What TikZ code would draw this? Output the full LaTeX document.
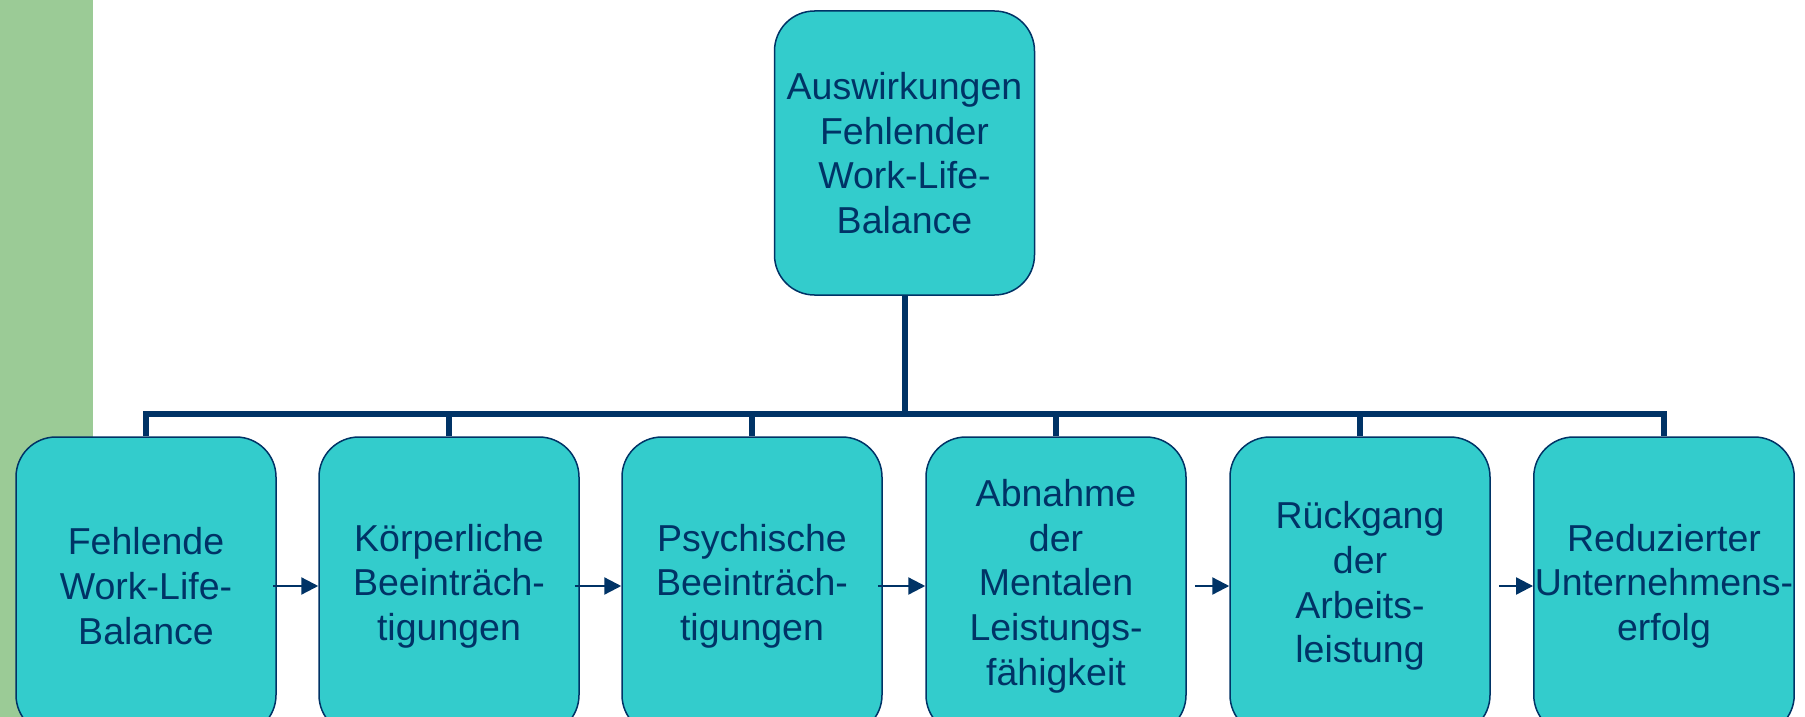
\documentclass[tikz,border=0pt]{standalone}
\usepackage{fontspec}
\setmainfont{Liberation Sans}
\usepackage{xcolor}
\usepackage{tikz}
\usetikzlibrary{arrows.meta}
\usetikzlibrary{positioning}

\definecolor{navy}{RGB}{0,51,102}
\definecolor{tuerkis}{RGB}{51,204,204}
\definecolor{seitengruen}{RGB}{155,203,150}

\tikzset{
  wirkbox/.style={draw=navy, line width=1.5pt, fill=tuerkis, rounded corners=40pt,
    minimum width=260pt, minimum height=298pt, inner sep=1pt, align=center,
    text=navy, font=\fontsize{37.5}{44.7}\selectfont},
  orgline/.style={draw=navy, line width=6pt},
  flow/.style={draw=navy, line width=2.3pt, -{Triangle[length=17pt,width=17pt]}},
}

\begin{document}
\begin{tikzpicture}[x=1pt,y=1pt,yscale=-1,xscale=1]
  \clip (0,0) rectangle (1805,717);

  %Shape: side bar
  \fill [seitengruen] (0,0) rectangle (93,717);

  %Top box
  \node [wirkbox, minimum height=284pt] (wirkung) at (904.5,153)
    {Auswirkungen\\Fehlender\\Work-Life-\\Balance};

  %Row of boxes
  \node [wirkbox] (fehlend) at (146,586) {Fehlende\\Work-Life-\\Balance};
  \node [wirkbox] (koerper) at (449,586) {Körperliche\\Beeinträch-\\tigungen};
  \node [wirkbox] (psyche)  at (752,586) {Psychische\\Beeinträch-\\tigungen};
  \node [wirkbox] (mental)  at (1056,586) {Abnahme\\der\\Mentalen\\Leistungs-\\fähigkeit};
  \node [wirkbox] (arbeit)  at (1360,586) {Rückgang\\der\\Arbeits-\\leistung};
  \node [wirkbox] (erfolg)  at (1664,586) {Reduzierter\\Unternehmens-\\erfolg};

  %Org lines
  \coordinate (bar) at (0,414);
  \foreach \kind in {fehlend,koerper,psyche,mental,arbeit,erfolg}
    \draw [orgline] (wirkung.south) -- (wirkung.south |- bar) -| (\kind.north);

  %Arrows
  \draw [flow] ([xshift=-4pt]fehlend.east) -- (koerper.west);
  \draw [flow] ([xshift=-5pt]koerper.east) -- (psyche.west);
  \draw [flow] ([xshift=-5pt]psyche.east) -- (mental.west);
  \draw [flow] ([xshift=8pt]mental.east) -- (arbeit.west);
  \draw [flow] ([xshift=8pt]arbeit.east) -- (erfolg.west);
\end{tikzpicture}
\end{document}
